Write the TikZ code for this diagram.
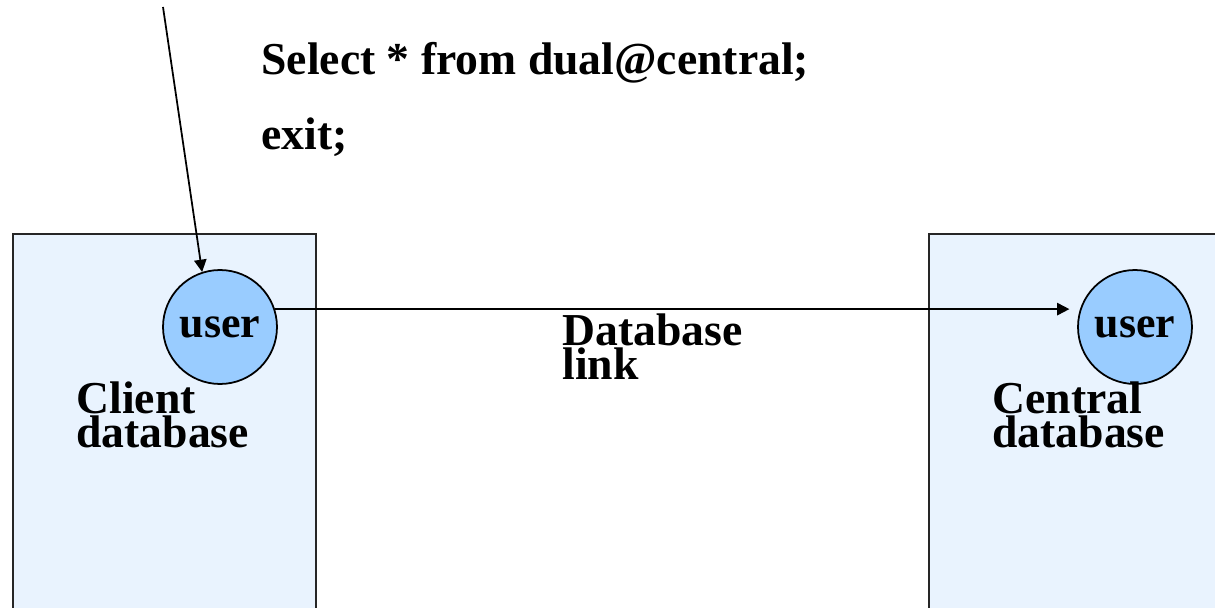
\documentclass[tikz,border=0pt]{standalone}
\usepackage{fontspec}
\setmainfont{Liberation Serif}
\usetikzlibrary{arrows.meta}
\definecolor{dbfill}{RGB}{233,243,254}
\definecolor{userfill}{RGB}{153,204,255}
\begin{document}
\begin{tikzpicture}[x=0.02cm, y=-0.02cm,
  dbbox/.style={draw=black!85, line width=1pt, fill=dbfill, anchor=north west, minimum width=#1, minimum height=8cm, inner sep=0},
  user/.style={circle, draw, line width=1pt, fill=userfill, minimum size=2.28cm, inner sep=0, font=\fontsize{25}{19}\selectfont\bfseries},
  label/.style={anchor=base west, inner sep=0, align=left, font=\fontsize{26}{18}\selectfont\bfseries},
  arrow/.style={-{Triangle[length=7pt,width=7pt]}, line width=1pt}
]
\useasboundingbox (0,0) rectangle (1215,608);
\clip (0,0) rectangle (1215,608);
\node[dbbox=6.06cm] (client) at (12,233) {};
\node[dbbox=6.5cm] (central) at (928,233) {};
\node[user] (uc) at (220,327) {user};
\node[user] (us) at (1135,327) {user};
% base anchor of two-line labels sits on the second line
\node[label] (cl) at (76,447) {Client\\database};
\node[label] (ce) at (992,447) {Central\\database};
\node[label] (lk) at (562,379) {Database\\link};
\node[label] (sql) at (261,75) {Select * from dual@central;};
\node[label] (ex) at (261,150) {exit;};
\coordinate (top) at (163,7);
\draw[arrow] (top) -- (uc.108);
\draw[arrow, shorten >=6pt] (uc.18) -- (us.162);
\end{tikzpicture}
\end{document}
